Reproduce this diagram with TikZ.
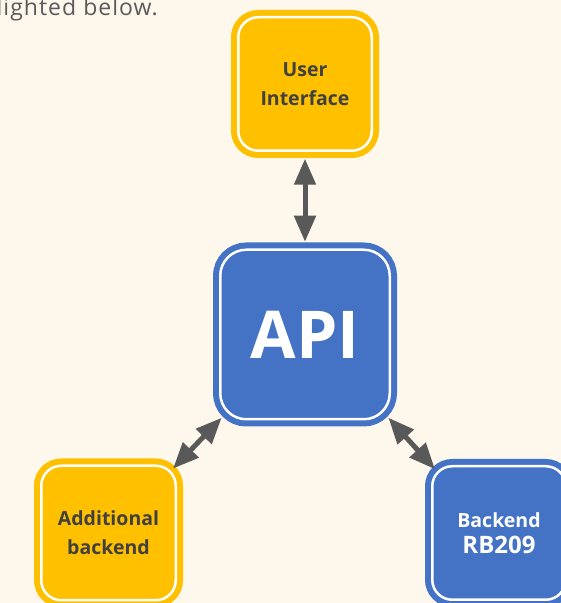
\documentclass[tikz,border=0pt]{standalone}
\usepackage{fontspec}
\setmainfont{Open Sans}
\usetikzlibrary{arrows.meta,calc}
\definecolor{bg}{HTML}{FEF7EC}
\definecolor{orangebox}{HTML}{FFC000}
\definecolor{bluebox}{HTML}{4472C4}
\definecolor{darktext}{HTML}{404040}
\definecolor{arrowgray}{HTML}{595959}
\definecolor{toptext}{HTML}{5A5A5A}
\begin{document}
\begin{tikzpicture}[x=1pt,y=1pt,
  boxbase/.style={line width=6pt, double=white, double distance=2.5pt,
    outer sep=0pt, inner sep=0pt, align=center},
  obox/.style={boxbase, draw=orangebox, fill=orangebox, text=darktext},
  bbox/.style={boxbase, draw=bluebox, fill=bluebox, text=white},
  labelfont/.style={font=\fontsize{19.5}{29}\selectfont\bfseries},
  biarrow/.style={arrowgray, line width=5pt,
    {Triangle[length=26pt,width=21pt]}-{Triangle[length=26pt,width=21pt]}}]
\useasboundingbox (0,0) rectangle (561,603);
\fill[bg] (0,0) rectangle (561,603);
\node[text=toptext, anchor=base east, inner sep=0pt,
  font=\fontsize{23}{27}\selectfont\addfontfeatures{LetterSpace=4.5}] (top) at (158,587) {highlighted below.};
\node[obox, minimum size=133.5pt, rounded corners=20pt, labelfont] (ui) at (305,519) {User\\Interface};
\node[bbox, minimum size=169.5pt, rounded corners=26pt,
  font=\fontsize{66}{70}\selectfont\bfseries] (api) at (305,268.5) {API};
\node[obox, minimum size=134.5pt, rounded corners=20pt, labelfont] (ab) at (108.5,70) {Additional\\backend};
\node[bbox, minimum size=133.5pt, rounded corners=20pt, font=\bfseries] (be) at (499,70)
  {{\fontsize{19.5}{24}\selectfont Backend}\\[7pt]{\fontsize{24}{28}\selectfont RB209}};
\draw[biarrow, shorten <=8pt, shorten >=8pt] (ui.south) -- (api.north);
\draw[biarrow, shorten <=-2pt, shorten >=-4pt] (api.south west) -- (ab.north east);
\draw[biarrow, shorten <=-2pt, shorten >=-4pt] (api.south east) -- (be.north west);
\end{tikzpicture}
\end{document}
